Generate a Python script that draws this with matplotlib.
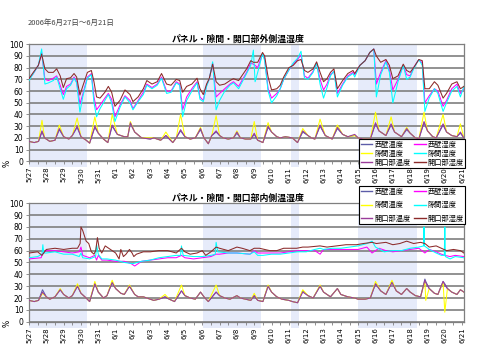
import matplotlib
matplotlib.use("Agg")
import matplotlib.pyplot as plt
from matplotlib.lines import Line2D

plt.rcParams['font.family'] = ['Noto Sans CJK JP', 'DejaVu Sans']

period_text = "2006年6月27日～6月21日"
title_top = "パネル・隙間・開口部外側温湿度"
title_bottom = "パネル・隙間・開口部内側温湿度"
day_labels = ["5/27", "5/28", "5/29", "5/30", "5/31", "6/1", "6/2", "6/3", "6/4", "6/5",
              "6/6", "6/7", "6/8", "6/9", "6/10", "6/11", "6/12", "6/13", "6/14", "6/15",
              "6/16", "6/17", "6/18", "6/19", "6/20", "6/21"]
series_names = ["西壁温度", "隙間温度", "開口部温度", "西壁湿度", "隙間湿度", "開口部湿度"]
shaded_days = [(0, 3.35), (10.05, 13.4), (15.1, 15.6), (19.0, 22.4)]

# ---- outside (top chart) ----
top_hum_t = [0, 0.25, 0.54, 0.73, 0.92, 1.12, 1.4, 1.6, 1.8, 1.98,
             2.17, 2.4, 2.6, 2.75, 2.94, 3.1, 3.37, 3.6, 3.75, 3.9,
             4.1, 4.38, 4.58, 4.77, 4.96, 5.25, 5.54, 5.83, 6.0, 6.3,
             6.6, 6.8, 7.1, 7.4, 7.65, 7.94, 8.2, 8.5, 8.7, 8.87,
             9.1, 9.4, 9.7, 9.87, 10.06, 10.25, 10.4, 10.6, 10.8, 11.0,
             11.3, 11.6, 11.8, 12.1, 12.56, 12.8, 12.95, 13.05, 13.2, 13.48,
             13.6, 13.8, 14.0, 14.3, 14.5, 14.7, 15.0, 15.25, 15.5, 15.7,
             15.9, 16.1, 16.4, 16.6, 16.8, 17.0, 17.2, 17.4, 17.6, 17.8,
             18.1, 18.4, 18.7, 18.8, 19.1, 19.4, 19.67, 19.9, 20.05, 20.3,
             20.6, 20.8, 21.0, 21.3, 21.6, 21.8, 22.0, 22.2, 22.5, 22.7,
             22.85, 23.1, 23.4, 23.6, 23.9, 24.1, 24.4, 24.7, 24.9, 25.1]
top_open_hum = [70.6, 76, 82, 91.6, 79, 76, 76, 79, 73, 63,
                70.6, 71.4, 75, 72, 56.6, 64, 76, 77.6, 68, 55,
                54, 59, 64, 59, 47, 52, 61, 57, 51, 55,
                62, 69, 66, 68, 75, 66, 65, 70, 69, 59,
                64, 66, 71, 62, 57, 66, 70.6, 83, 68, 65,
                66, 69, 70.6, 69, 79, 86, 84.6, 84.6, 84.6, 93,
                90, 72, 61, 62, 65, 72, 80, 82, 86, 87,
                77.6, 76, 79, 85, 76, 68, 70.6, 76, 79, 62,
                69, 75, 77.6, 75, 82, 86, 93, 96, 90, 84.6,
                87, 82, 70.6, 73, 83, 77.6, 76, 80, 87, 86,
                62, 62, 68, 65, 54, 58, 66, 68, 62, 64]
top_wall_hum = [70, 75, 82, 93, 70, 69, 71, 73, 65, 57,
                64, 66, 72, 68, 49, 57, 72, 75, 55, 44,
                48, 54, 58, 53, 38, 48, 56, 52, 45, 52,
                59, 66, 63, 66, 72, 60, 60, 68, 66, 44,
                55, 62, 68, 55, 52, 65, 70, 84, 55, 58,
                62, 66, 68, 64, 76, 84, 83, 82, 80, 92,
                88, 62, 54, 58, 62, 70, 78, 83, 87, 91,
                73, 71, 77, 84, 70, 61, 66, 74, 77, 58,
                66, 73, 76, 74, 82, 86, 93, 96, 66, 76,
                86, 78, 61, 70, 82, 74, 73, 80, 87, 84,
                50, 56, 62, 60, 47, 52, 62, 66, 58, 62]
top_gap_hum = [69, 75, 82, 96, 66, 67, 69, 72, 62, 53,
               62, 65, 71, 67, 42, 55, 71, 74, 50, 38,
               45, 52, 57, 50, 34, 46, 55, 50, 44, 51,
               57, 65, 62, 65, 71, 58, 59, 67, 65, 38,
               52, 60, 67, 53, 51, 64, 70, 85, 44, 52,
               60, 65, 67, 62, 75, 82, 95, 68, 76, 92,
               86, 60, 50, 56, 62, 70, 78, 84, 88, 94,
               71, 70, 76, 84, 66, 54, 63, 73, 77, 55,
               65, 72, 75, 72, 82, 86, 93, 96, 55, 74,
               85, 76, 50, 68, 82, 70, 72, 79, 87, 82,
               42.6, 54, 62, 58, 42.6, 50, 60, 64, 55, 64]

top_tmp_t = [0, 0.3, 0.55, 0.75, 0.9, 1.2, 1.5, 1.75, 2.0, 2.3,
             2.5, 2.78, 3.0, 3.3, 3.5, 3.8, 4.0, 4.3, 4.55, 4.8,
             5.1, 5.5, 5.7, 5.85, 6.1, 6.5, 7.0, 7.2, 7.6, 7.9,
             8.3, 8.5, 8.75, 9.0, 9.3, 9.6, 9.9, 10.1, 10.35, 10.55,
             10.8, 11.0, 11.2, 11.5, 11.8, 12.0, 12.2, 12.5, 12.8, 13.0,
             13.2, 13.5, 13.8, 14.0, 14.3, 14.5, 14.8, 15.2, 15.5, 15.8,
             16.1, 16.3, 16.5, 16.8, 17.1, 17.5, 17.8, 18.1, 18.4, 18.8,
             19.0, 19.3, 19.7, 20.0, 20.2, 20.6, 20.9, 21.1, 21.5, 21.8,
             22.0, 22.3, 22.5, 22.8, 23.0, 23.3, 23.5, 23.9, 24.1, 24.4,
             24.7, 24.9, 25.1]
top_wall_tmp = [17, 16, 17, 25, 20, 17, 18, 27, 21, 19,
                22, 29, 21, 18, 15.5, 29, 24, 19, 16, 30,
                23, 21, 21, 32, 25, 20, 19, 20, 18, 22,
                16, 20, 26, 21, 19, 20, 27, 20, 15, 22,
                25, 22, 20, 19, 20, 24, 20, 19, 19, 23,
                18, 16, 29, 25, 21, 20, 21, 20, 16, 25,
                22, 20, 19, 30, 22, 19, 28, 23, 21, 22,
                20, 19, 19, 32, 26, 22, 31, 25, 21, 27,
                24, 20, 19, 33, 26, 21, 20, 31, 25, 22,
                21, 24, 20]
top_gap_tmp = [17, 16, 17, 35, 20, 17, 18, 31, 21, 19,
               22, 37, 21, 18, 15.5, 38, 24, 19, 16, 40,
               23, 21, 21, 34, 25, 20, 20, 20, 18, 25,
               16, 20, 40, 21, 19, 20, 29, 20, 15, 22,
               39, 22, 20, 19, 20, 26, 20, 19, 19, 34,
               18, 16, 33, 25, 21, 20, 21, 20, 16, 28,
               22, 20, 19, 36, 22, 19, 31, 23, 21, 22,
               20, 19, 19, 42, 26, 22, 38, 25, 21, 29,
               24, 20, 19, 42, 26, 21, 20, 40, 25, 22,
               21, 32, 20]
top_open_tmp = [17, 16, 17, 26, 20, 17, 18, 28, 21, 19,
                22, 30, 21, 18, 15.5, 30, 24, 19, 16, 31,
                23, 21, 21, 33, 25, 20, 19, 20, 18, 22,
                16, 20, 27, 21, 19, 20, 28, 20, 15, 22,
                26, 22, 20, 19, 20, 25, 20, 19, 19, 24,
                18, 16, 30, 25, 21, 20, 21, 20, 16, 26,
                22, 20, 19, 31, 22, 19, 29, 23, 21, 23,
                20, 19, 19, 33, 26, 22, 32, 25, 21, 28,
                24, 20, 19, 34, 26, 21, 20, 32, 25, 22,
                21, 25, 20]

# ---- inside (bottom chart) ----
bot_open_hum_t = [0, 0.5, 0.75, 1.0, 1.5, 2.0, 2.5, 2.8, 2.95, 3.0,
                  3.1, 3.3, 3.45, 3.6, 3.75, 3.85, 3.95, 4.05, 4.2, 4.4,
                  4.6, 4.8, 5.0, 5.2, 5.3, 5.45, 5.6, 5.8, 5.95, 6.05,
                  6.2, 6.4, 6.6, 7.0, 7.5, 8.0, 8.5, 8.8, 9.0, 9.3,
                  9.7, 10.0, 10.2, 10.5, 10.8, 11.0, 11.5, 12.0, 12.3, 12.75,
                  13.0, 13.3, 13.6, 13.9, 14.3, 14.7, 15.0, 15.45, 15.8, 16.1,
                  16.8, 17.2, 17.75, 18.3, 18.9, 19.3, 19.8, 20.05, 20.6, 21.0,
                  21.4, 21.8, 22.2, 22.6, 22.85, 23.1, 23.5, 23.8, 24.1, 24.5,
                  24.9, 25.1]
bot_open_hum = [58, 59, 56, 61, 62, 61, 62, 62, 66, 80,
                77, 68, 66, 59, 57, 60, 71, 62, 58, 64,
                62, 60, 58, 53, 61, 55, 57, 61, 58, 55,
                57, 58, 59, 59, 60, 60, 58, 62, 59, 57,
                58, 60, 56, 59, 63, 62, 60, 63, 62, 60,
                62, 62, 61, 60, 60, 62, 62, 62, 63, 63,
                64, 63, 64, 65, 65, 66, 67, 66, 67, 65,
                66, 68, 66, 67, 66, 63, 64, 62, 60, 61,
                60, 58]
bot_wall_hum_t = [0, 0.7, 0.8, 1.0, 1.5, 2.0, 2.5, 2.9, 3.0, 3.1,
                  3.5, 3.8, 3.9, 4.0, 4.2, 4.5, 5.0, 5.5, 5.9, 6.1,
                  6.5, 7.0, 7.5, 8.0, 8.5, 8.8, 9.0, 9.5, 10.0, 10.5,
                  10.8, 11.0, 11.5, 12.0, 12.75, 13.0, 13.2, 13.5, 14.0, 14.5,
                  15.0, 15.5, 16.0, 16.5, 16.8, 17.0, 17.5, 18.0, 18.5, 19.0,
                  19.5, 19.8, 20.2, 20.6, 21.0, 21.5, 22.0, 22.5, 22.85, 23.1,
                  23.5, 23.8, 24.0, 24.3, 24.6, 25.1]
bot_wall_hum = [53, 54, 58, 60, 60, 59, 58, 59, 63, 56,
                54, 56, 52, 56, 52, 52, 51, 51, 49, 47,
                51, 52, 53, 54, 54, 56, 54, 53, 54, 55,
                57, 57, 58, 58, 57, 60, 58, 58, 58, 58,
                59, 60, 60, 60, 57, 61, 61, 61, 61, 61,
                63, 58, 62, 60, 59, 60, 61, 62, 58, 61,
                59, 57, 56, 55, 56, 55]
bot_gap_hum_t = [0, 0.5, 0.75, 0.8, 0.85, 1.0, 1.5, 2.0, 2.5, 2.9,
                 3.0, 3.1, 3.5, 3.85, 3.9, 4.0, 4.2, 4.5, 5.0, 5.5,
                 6.0, 6.5, 7.0, 7.5, 8.0, 8.5, 8.75, 8.8, 8.9, 9.5,
                 10.0, 10.5, 10.75, 10.8, 10.9, 11.5, 12.0, 12.75, 13.0, 13.2,
                 13.5, 14.0, 14.5, 15.0, 15.5, 16.0, 16.5, 16.8, 17.0, 17.5,
                 18.0, 18.5, 19.0, 19.5, 19.8, 20.0, 20.5, 21.0, 21.5, 22.0,
                 22.5, 22.78, 22.8, 22.82, 23.1, 23.5, 23.8, 23.97, 24.0, 24.03,
                 24.3, 24.6, 25.1]
bot_gap_hum = [54, 55, 57, 65, 58, 58, 59, 57, 57, 55,
               58, 54, 53, 55, 65, 57, 53, 53, 52, 50,
               49, 51, 52, 54, 55, 56, 56, 64, 56, 55,
               55, 56, 57, 67, 59, 58, 58, 57, 59, 56,
               56, 57, 57, 58, 59, 59, 61, 62, 61, 62,
               62, 63, 64, 66, 68, 63, 59, 60, 60, 62,
               63, 64, 80, 64, 61, 58, 56, 56, 80, 55,
               53, 55, 54]

bot_tmp_t = [0, 0.3, 0.55, 0.78, 1.0, 1.2, 1.5, 1.8, 2.0, 2.3,
             2.5, 2.8, 3.0, 3.3, 3.5, 3.8, 4.0, 4.3, 4.5, 4.8,
             5.0, 5.3, 5.5, 5.8, 6.1, 6.3, 6.6, 7.0, 7.2, 7.5,
             7.85, 8.1, 8.4, 8.8, 9.0, 9.3, 9.6, 9.9, 10.1, 10.35,
             10.8, 11.0, 11.3, 11.6, 12.0, 12.2, 12.5, 12.8, 13.0, 13.2,
             13.5, 13.8, 14.0, 14.3, 14.6, 15.0, 15.2, 15.5, 15.8, 16.1,
             16.4, 16.8, 17.0, 17.4, 17.8, 18.0, 18.4, 18.8, 19.0, 19.4,
             19.7, 20.0, 20.3, 20.6, 20.95, 21.2, 21.5, 21.8, 22.0, 22.3,
             22.6, 22.85, 22.9, 23.1, 23.4, 23.6, 23.9, 24.0, 24.15, 24.4,
             24.7, 24.9, 25.1]
bot_wall_tmp = [18, 17, 18, 27, 21, 19, 21, 27, 23, 20,
                22, 30, 24, 20, 17, 32, 25, 20, 22, 33,
                28, 24, 23, 30, 23, 21, 21, 19, 18, 19,
                21, 19, 17, 26, 22, 20, 19, 25, 21, 17,
                25, 22, 20, 19, 22, 20, 19, 18, 22, 18,
                17, 30, 25, 21, 19, 18, 17, 16, 26, 22,
                20, 30, 25, 21, 28, 23, 21, 20, 19, 19,
                20, 32, 26, 23, 34, 26, 23, 28, 25, 22,
                21, 36, 34, 28, 24, 23, 34, 32, 28, 25,
                23, 27, 25]
bot_gap_tmp = [18, 17, 18, 24, 21, 19, 21, 28, 23, 20,
               22, 32, 24, 20, 17, 34, 25, 20, 22, 35,
               28, 24, 23, 31, 23, 21, 21, 19, 18, 19,
               23, 19, 17, 31, 22, 20, 19, 25, 21, 17,
               31, 22, 20, 19, 22, 20, 19, 18, 24, 18,
               17, 31, 25, 21, 19, 18, 17, 16, 27, 22,
               20, 31, 25, 21, 28, 23, 21, 20, 19, 19,
               20, 34, 26, 23, 35, 26, 23, 28, 25, 22,
               21, 34, 18, 28, 24, 23, 33, 8, 28, 25,
               23, 27, 25]
bot_open_tmp = [18, 17, 18, 25, 21, 19, 21, 27, 23, 20,
                22, 30, 24, 20, 17, 32, 25, 20, 22, 33,
                28, 24, 23, 30, 23, 21, 21, 19, 18, 19,
                21, 19, 17, 26, 22, 20, 19, 25, 21, 17,
                25, 22, 20, 19, 22, 20, 19, 18, 22, 18,
                17, 30, 25, 21, 19, 18, 17, 16, 25, 22,
                20, 30, 25, 21, 28, 23, 21, 20, 19, 19,
                20, 32, 26, 23, 33, 26, 23, 28, 25, 22,
                21, 35, 33, 28, 24, 23, 34, 31, 28, 25,
                23, 27, 25]

C_WALL_T = "#5c5ca8"
C_WALL_H = "#ff00ff"
C_GAP_T = "#ffff00"
C_GAP_H = "#00ffff"
C_OPEN_T = "#9a3c9a"
C_OPEN_H = "#8c2a2a"
GRID = "#7f7f7f"
SHADE = "#e6ebfa"


def setup_axes(ax, title):
    for d0, d1 in shaded_days:
        ax.axvspan(d0, d1, ymin=-0.05, ymax=1.0, color=SHADE, lw=0, zorder=0, clip_on=False)
    ax.set_xlim(0, 25.1)
    ax.set_ylim(0, 100)
    ax.set_yticks(range(0, 101, 10))
    ax.set_yticklabels([str(v) for v in range(0, 101, 10)], fontsize=5.5, family="DejaVu Sans")
    ax.set_xticks(range(len(day_labels)))
    ax.set_xticklabels(day_labels, rotation=90, fontsize=5, family="DejaVu Sans")
    ax.set_xticks([d + 0.5 for d in range(25)], minor=True)
    ax.tick_params(axis="x", which="both", length=2.5, width=0.6, color=GRID, pad=1.5)
    ax.tick_params(axis="y", length=2, width=0.6, color=GRID, pad=2)
    ax.grid(axis="y", color=GRID, lw=1.2, zorder=1)
    ax.set_axisbelow(True)
    for s in ax.spines.values():
        s.set_color(GRID)
        s.set_linewidth(0.9)
    ax.set_facecolor("none")
    ax.set_title(title, fontsize=6.4, fontweight="bold", pad=2, x=0.48)


def draw(ax, t_tmp, wall_t, gap_t, open_t, wall_h_t, wall_h, gap_h_t, gap_h, open_h_t, open_h):
    lw = 0.75
    ax.plot(t_tmp, wall_t, color=C_WALL_T, lw=lw, zorder=3)
    ax.plot(wall_h_t, wall_h, color=C_WALL_H, lw=lw, zorder=3)
    ax.plot(t_tmp, gap_t, color=C_GAP_T, lw=lw, zorder=3)
    ax.plot(gap_h_t, gap_h, color=C_GAP_H, lw=lw, zorder=3)
    ax.plot(t_tmp, open_t, color=C_OPEN_T, lw=lw, zorder=4)
    ax.plot(open_h_t, open_h, color=C_OPEN_H, lw=lw, zorder=4)


fig = plt.figure(figsize=(4.8, 3.6), dpi=100)
fig.patch.set_facecolor("white")
ax1 = fig.add_axes([0.0604, 0.552, 0.906, 0.325])
ax2 = fig.add_axes([0.0604, 0.1064, 0.906, 0.329])

setup_axes(ax1, title_top)
setup_axes(ax2, title_bottom)

draw(ax1, top_tmp_t, top_wall_tmp, top_gap_tmp, top_open_tmp,
     top_hum_t, top_wall_hum, top_hum_t, top_gap_hum, top_hum_t, top_open_hum)
draw(ax2, bot_tmp_t, bot_wall_tmp, bot_gap_tmp, bot_open_tmp,
     bot_wall_hum_t, bot_wall_hum, bot_gap_hum_t, bot_gap_hum, bot_open_hum_t, bot_open_hum)

fig.text(28 / 480, 1 - 22.5 / 360, period_text, fontsize=5.4, color="#444444", va="center")
fig.text(7 / 480, 1 - 163 / 360, "%", fontsize=5.5, rotation=90, va="center", ha="center",
         family="DejaVu Sans")
fig.text(7 / 480, 1 - 323 / 360, "%", fontsize=5.5, rotation=90, va="center", ha="center",
         family="DejaVu Sans")

handles = [Line2D([], [], color=c, lw=1.0) for c in
           [C_WALL_T, C_GAP_T, C_OPEN_T, C_WALL_H, C_GAP_H, C_OPEN_H]]
for anchor_y, spacing in [(1 - 139 / 360, 0.12), (1 - 186 / 360, 0.75)]:
    leg = fig.legend(handles, series_names, ncol=2, loc="upper left",
                     bbox_to_anchor=(359 / 480, anchor_y), fontsize=5.2,
                     frameon=True, fancybox=False, edgecolor="black", framealpha=1,
                     borderpad=0.25, handlelength=1.6, handletextpad=0.25,
                     columnspacing=0.5, labelspacing=spacing, borderaxespad=0)
    leg.get_frame().set_linewidth(0.8)

fig.savefig("out.png", dpi=100, facecolor="white")
